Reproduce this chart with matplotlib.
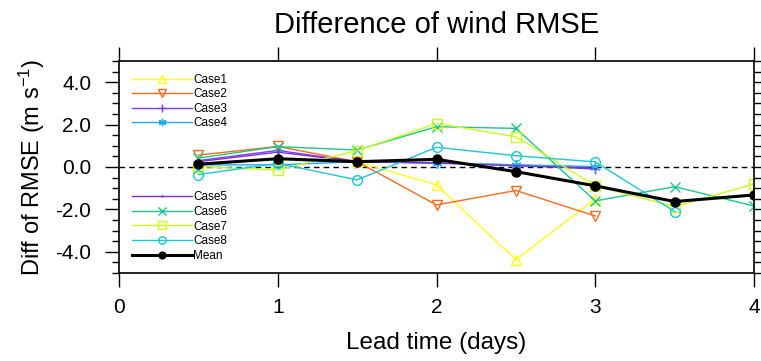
import numpy as np
import matplotlib
matplotlib.use('Agg')
import matplotlib.pyplot as plt
from matplotlib.ticker import MultipleLocator

plt.rcParams['font.family'] = ['Liberation Sans', 'DejaVu Sans']
plt.rcParams['mathtext.fontset'] = 'custom'
plt.rcParams['mathtext.rm'] = 'Liberation Sans'
plt.rcParams['mathtext.default'] = 'regular'

#------------------------------------------------------------
# data
#------------------------------------------------------------
lead = [0.5, 1.0, 1.5, 2.0, 2.5, 3.0, 3.5, 4.0]

case1 = [0.10, 0.40, 0.25, -0.85, -4.38, -1.50]
case2 = [0.56, 0.97, 0.25, -1.79, -1.11, -2.31]
case3 = [0.30, 0.78, 0.25, 0.17, 0.10, -0.10]
case4 = [0.10, 0.10, 0.25, 0.20, 0.10, 0.02]
case5 = [0.25, 0.70, 0.25, 0.20, 0.05, -0.05]
case6 = [0.42, 0.96, 0.80, 1.90, 1.82, -1.60, -0.93, -1.84]
case7 = [0.02, -0.14, 0.77, 2.05, 1.43, -0.89, -1.87, -0.80]
case8 = [-0.36, 0.17, -0.61, 0.93, 0.53, 0.24, -2.10]
mean = [0.13, 0.39, 0.25, 0.36, -0.22, -0.89, -1.63, -1.32]

names = ['Case1', 'Case2', 'Case3', 'Case4', 'Case5', 'Case6', 'Case7', 'Case8']
series = [case1, case2, case3, case4, case5, case6, case7, case8]
colors = ['#ffff1a', '#ff6a1a', '#7a3cff', '#1aaaff', '#8030c8', '#1ac88a', '#c8ff1a', '#1ac8d0']
markers = ['^', 'v', '+', (6, 2, 0), '.', 'x', 's', 'o']

fig = plt.figure(figsize=(7.61, 3.61), dpi=100)
ax = fig.add_axes([0.1564, 0.2438, 0.8344, 0.5873])

lines = []
for name, vals, c, m in zip(names, series, colors, markers):
    msz = 2 if m == '.' else 7
    hollow = m in ('^', 'v', 's', 'o')
    ln, = ax.plot(lead[:len(vals)], vals, color=c, lw=1.0, marker=m, ms=msz,
                  mfc='none' if hollow else c, mec=c, mew=1.0, label=name)
    lines.append(ln)
lm, = ax.plot(lead, mean, color='k', lw=2.2, marker='o', ms=6.5, label='Mean', zorder=5)

ax.axhline(0, color='k', lw=1.0, ls=(0, (4, 3)), zorder=1)

ax.set_xlim(0, 4)
ax.set_ylim(-5, 5)
ax.xaxis.set_major_locator(MultipleLocator(1))
ax.yaxis.set_minor_locator(MultipleLocator(0.5))
ax.set_yticks([-4, -2, 0, 2, 4])
ax.set_yticklabels(['-4.0', '-2.0', '0.0', '2.0', '4.0'])
ax.tick_params(which='both', direction='out', top=True, right=True, labelsize=15, width=1.0)
ax.tick_params(which='major', length=10)
ax.tick_params(which='minor', length=5)
ax.tick_params(axis='x', pad=8)
ax.tick_params(axis='y', pad=10)
for s in ax.spines.values():
    s.set_linewidth(1.2)

ax.set_title('Difference of wind RMSE', fontsize=21, pad=20)
ax.set_xlabel('Lead time (days)', fontsize=17.5, labelpad=11)
ax.set_ylabel('Diff of RMSE (m s$^{-1}$)', fontsize=17, labelpad=6)

leg_kw = dict(loc='upper left', frameon=False, fontsize=8.5, handlelength=5.1,
              handletextpad=0.1, borderpad=0, borderaxespad=0, labelspacing=0.22,
              markerscale=0.75)
leg1 = ax.legend(handles=lines[:4], bbox_to_anchor=(0.02, 0.94), **leg_kw)
ax.add_artist(leg1)
ax.legend(handles=lines[4:] + [lm], bbox_to_anchor=(0.02, 0.385), **leg_kw)

fig.savefig('out.png', dpi=100)
